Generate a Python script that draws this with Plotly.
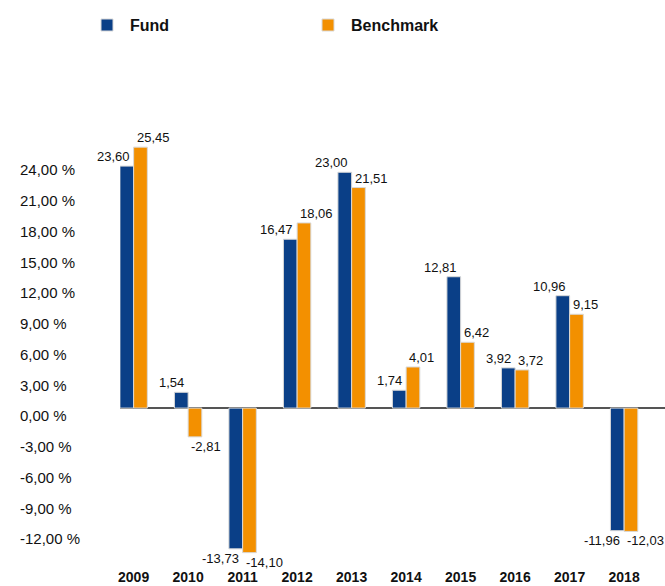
import plotly.graph_objects as go

years = ["2009", "2010", "2011", "2012", "2013", "2014", "2015", "2016", "2017", "2018"]
fund = [23.60, 1.54, -13.73, 16.47, 23.00, 1.74, 12.81, 3.92, 10.96, -11.96]
benchmark = [25.45, -2.81, -14.10, 18.06, 21.51, 4.01, 6.42, 3.72, 9.15, -12.03]
fund_labels = ["23,60", "1,54", "-13,73", "16,47", "23,00", "1,74", "12,81", "3,92", "10,96", "-11,96"]
bench_labels = ["25,45", "-2,81", "-14,10", "18,06", "21,51", "4,01", "6,42", "3,72", "9,15", "-12,03"]
tick_vals = [-12, -9, -6, -3, 0, 3, 6, 9, 12, 15, 18, 21, 24]
tick_text = ["-12,00 %", "-9,00 %", "-6,00 %", "-3,00 %", "0,00 %", "3,00 %", "6,00 %",
             "9,00 %", "12,00 %", "15,00 %", "18,00 %", "21,00 %", "24,00 %"]

BLUE = "#0A3F87"
ORANGE = "#F39000"
FONT = "Arial, Liberation Sans, sans-serif"

W, H = 665, 586
PLOT_L = 120
Y_RANGE = [-15.5, 28]
LABEL_SHIFT = 0.78

fig = go.Figure()
fig.add_trace(go.Bar(x=years, y=fund, name="Fund", marker=dict(color=BLUE, line=dict(color="#d9d9d9", width=1))))
fig.add_trace(go.Bar(x=years, y=benchmark, name="Benchmark", marker=dict(color=ORANGE, line=dict(color="#d9d9d9", width=1))))
# invisible trace to attach the left-aligned tick-label axis
fig.add_trace(go.Scatter(x=[years[0]], y=[0], yaxis="y2", mode="markers", marker=dict(opacity=0), showlegend=False, hoverinfo="skip"))

annotations = []
for i, (v, t) in enumerate(zip(fund, fund_labels)):
    annotations.append(dict(x=i, y=v, xref="x", yref="y", text=t, showarrow=False, xanchor="right",
                            yanchor="bottom" if v >= 0 else "top", xshift=-2,
                            font=dict(family=FONT, size=13, color="#111")))
for i, (v, t) in enumerate(zip(benchmark, bench_labels)):
    annotations.append(dict(x=i, y=v, xref="x", yref="y", text=t, showarrow=False, xanchor="left",
                            yanchor="bottom" if v >= 0 else "top", xshift=1,
                            font=dict(family=FONT, size=13, color="#111")))

fig.update_layout(
    width=W, height=H,
    margin=dict(l=0, r=0, t=121, b=19, pad=0),
    paper_bgcolor="white", plot_bgcolor="white",
    barmode="group", bargap=0.497, bargroupgap=0,
    font=dict(family=FONT, color="#111"),
    xaxis=dict(type="category", domain=[PLOT_L / W, 1], range=[-0.25, 9.75],
               showline=False, showgrid=False, ticks="", automargin=False,
               tickfont=dict(family=FONT, size=14, color="#111", weight="bold")),
    yaxis=dict(range=Y_RANGE, showgrid=False, showticklabels=False, ticks="",
               zeroline=True, zerolinecolor="#555", zerolinewidth=1.5, showline=False),
    yaxis2=dict(range=[Y_RANGE[0] + LABEL_SHIFT, Y_RANGE[1] + LABEL_SHIFT], overlaying="y",
                anchor="free", position=19 / W, side="right", showgrid=False, zeroline=False,
                showline=False, ticks="", tickvals=tick_vals, ticktext=tick_text,
                tickfont=dict(family=FONT, size=15, color="#111"), automargin=False),
    legend=dict(orientation="h", x=84 / W, y=1.215, xanchor="left", yanchor="middle",
                entrywidth=170, itemwidth=36,
                font=dict(family=FONT, size=16, color="#111", weight="bold"),
                bgcolor="rgba(0,0,0,0)"),
    annotations=annotations,
    showlegend=True,
)

fig.write_html("out.html", config={"displayModeBar": False},
               post_script="document.body.style.margin='0';document.body.style.overflow='hidden';")
